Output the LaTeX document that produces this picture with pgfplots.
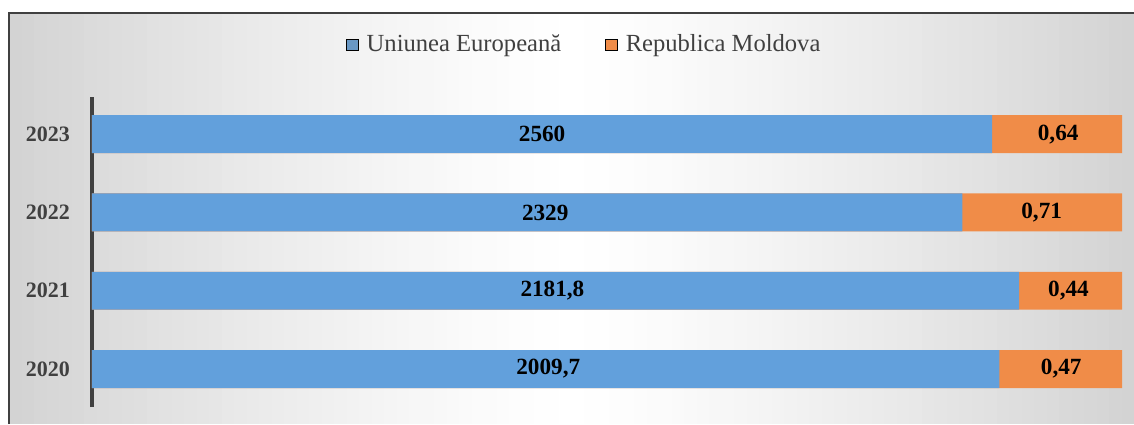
\documentclass[border=0pt]{standalone}
\usepackage{fontspec}
\setmainfont{Liberation Serif}
\usepackage{pgfplots}
\pgfplotsset{compat=1.18}
\definecolor{euBlue}{HTML}{62A0DC}
\definecolor{mdOrange}{HTML}{F08C48}
\definecolor{frameGray}{HTML}{404040}

\begin{document}
\begin{tikzpicture}
  % background and frame, in pixel units (y down)
  \begin{scope}[x=0.5pt, y=-0.5pt]
    \useasboundingbox (0,0) rectangle (1134,424);
    \fill[white] (0,0) rectangle (1134,424);
    % soft grey-to-white-to-grey backdrop built from thin strips
    \foreach \i in {0,...,89} {
      \pgfmathsetmacro\tt{abs((\i+0.5)/45-1)}
      \pgfmathsetmacro\lev{35*\tt^1.3}
      \pgfmathsetmacro\xa{9+\i*12.5}
      \pgfmathsetmacro\xb{9+\i*12.5+13.1}
      \fill[gray!\lev] (\xa,13) rectangle (\xb,424);
    }
    \draw[frameGray, line width=0.8pt] (9,424) -- (9,13) -- (1134,13);
  \end{scope}

  \begin{axis}[
    at={(46pt,-203.5pt)}, anchor=south west,
    scale only axis, width=515pt, height=155pt,
    xmin=0, xmax=1, ymin=-0.485, ymax=3.475,
    axis lines*=left,
    x axis line style={draw=none},
    y axis line style={draw=frameGray, line width=1.6pt, -},
    xtick=\empty,
    ytick={0,1,2,3},
    yticklabels={2020,2021,2022,2023},
    major tick length=0pt,
    yticklabel style={font=\fontsize{11}{12}\selectfont\bfseries, text=frameGray, xshift=-7.5pt},
    clip=false,
    legend style={at={(0.479,1.168)}, anchor=center, draw=none, fill=none,
      legend columns=2, font=\fontsize{12.3}{14}\selectfont, text=frameGray,
      /tikz/every odd column/.append style={column sep=2pt},
      /tikz/every even column/.append style={column sep=20pt}},
    legend image code/.code={\fill[#1] (0pt,-2.9pt) rectangle (5.8pt,2.9pt);},
  ]
    % visible shares of each bar (the chart draws both parts to full width)
    \addplot[xbar, bar width=0.485, bar shift=0pt, fill=mdOrange, draw=none, forget plot]
      coordinates {(1,0) (1,1) (1,2) (1,3)};
    \addplot[xbar, bar width=0.485, bar shift=0pt, fill=euBlue, draw=none, forget plot]
      coordinates {(0.881,0) (0.900,1) (0.845,2) (0.874,3)};

    % value labels
    \addplot[draw=none, forget plot, nodes near coords, point meta=explicit symbolic,
      every node near coord/.append style={anchor=center, font=\fontsize{11.6}{13}\selectfont\bfseries, text=black}]
      coordinates {(0.443,0) [{2009,7}] (0.447,1) [{2181,8}] (0.44,2) [2329] (0.437,3) [2560]};
    \addplot[draw=none, forget plot, nodes near coords, point meta=explicit symbolic,
      every node near coord/.append style={anchor=center, font=\fontsize{11.6}{13}\selectfont\bfseries, text=black}]
      coordinates {(0.941,0) [{0,47}] (0.948,1) [{0,44}] (0.922,2) [{0,71}] (0.938,3) [{0,64}]};

    \addlegendimage{fill=euBlue!75!gray}
    \addlegendentry{Uniunea Europeană}
    \addlegendimage{fill=mdOrange}
    \addlegendentry{Republica Moldova}
  \end{axis}
\end{tikzpicture}
\end{document}
